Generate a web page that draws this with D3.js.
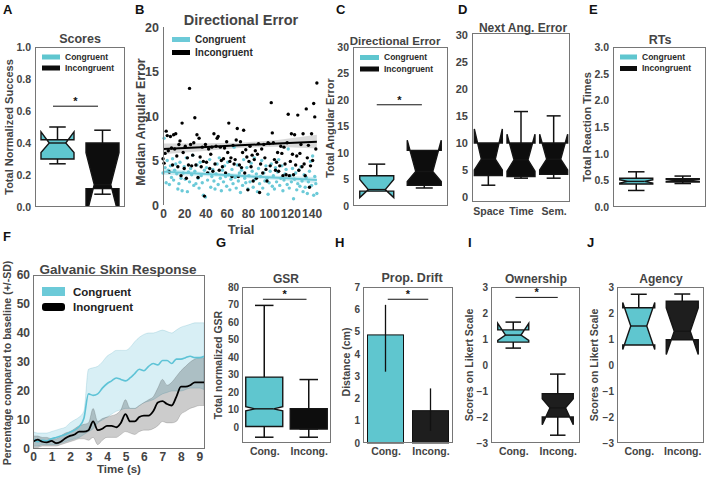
<!DOCTYPE html>
<html><head><meta charset="utf-8">
<script src="https://cdn.jsdelivr.net/npm/d3@7"></script>
<style>body{margin:0;background:#fff}</style>
</head><body><svg id="c" width="709" height="478" xmlns="http://www.w3.org/2000/svg"></svg>
<script>
// ---------------- DATA ----------------
const condLabels = ["Congruent", "Incongruent"];
const gsrLegendLabels = ["Congruent", "Inongruent"];
const shortLabels = ["Cong.", "Incong."];
const nextErrLabels = ["Space", "Time", "Sem."];
// box stats order: [whiskerLow, q1, notchLow, median, notchHigh, q3, whiskerHigh]
const scoresStats = [[0.27, 0.30, 0.34, 0.40, 0.47, 0.42, 0.50], [0.08, 0.115, -0.06, 0.14, 0.34, 0.40, 0.48]];
const dirErrStats = [[2.8, 2.8, 1.6, 3.1, 5.0, 5.7, 7.9], [3.4, 3.9, 4.6, 6.5, 12.4, 10.5, 10.5]];
const nextErrStats = [[2.2, 4.0, 5.0, 7.0, 12.6, 10.0, 10.0], [3.5, 3.8, 4.8, 6.9, 11.6, 10.0, 15.8], [3.5, 4.2, 5.0, 7.0, 11.6, 10.0, 15.0]];
const rtStats = [[0.31, 0.43, 0.45, 0.48, 0.51, 0.54, 0.66], [0.44, 0.47, 0.48, 0.50, 0.52, 0.53, 0.58]];
const gsrStats = [[-5.7, 0.4, 9.3, 10.5, 11.7, 28.6, 69.5], [-5.7, -1.0, -1.0, -1.0, -1.0, 10.5, 27.2]];
const ownStats = [[0.65, 0.88, 0.95, 1.15, 1.6, 1.35, 1.65], [-2.7, -2.0, -2.3, -1.65, -1.3, -1.1, -0.35]];
const agencyStats = [[0.77, 0.77, 0.6, 1.5, 2.4, 2.2, 2.72], [0.97, 0.97, 0.4, 1.3, 2.2, 2.45, 2.73]];
const driftMean = [4.85, 1.45];
const driftErrLow = [3.2, 0.55];
const driftErrHigh = [6.2, 2.45];
// significance bar levels
const sigScores = 0.63, sigDirErr = 19.1, sigGsr = 73, sigDrift = 6.45, sigOwn = 2.6;

// Panel B: median angular error per trial
const incongTrialErr = [5.2,4.7,5.8,8.3,7.8,6.1,3.7,7.7,6.4,4.5, 7.9,6.3,8.0,5.5,4.3,6.8,7.2,3.3,9.2,5.9,
 4.1,6.6,3.0,5.3,4.5,13.1,6.8,4.4,5.6,7.0, 9.8,4.5,7.9,3.1,7.5,5.4,4.3,6.5,4.9,1.0, 6.8,4.8,3.6,6.3,4.1,5.7,6.5,3.8,8.0,4.6,
 6.6,7.5,7.7,3.9,6.5,5.0,4.3,5.2,6.4,3.6, 7.1,5.9,9.2,4.9,5.3,3.2,6.7,4.6,5.1,7.3, 8.6,3.2,4.5,7.1,4.2,5.9,8.4,3.6,6.2,5.4,
 1.7,4.9,6.6,4.3,5.6,2.7,5.1,6.1,3.0,5.7, 6.9,1.4,4.6,6.3,3.6,6.8,5.3,4.0,2.7,7.0, 6.9,4.4,11.5,8.1,7.0,5.1,3.9,4.8,5.9,3.8,
 4.4,6.6,5.8,3.3,6.5,4.6,3.4,7.0,10.2,3.3, 4.9,8.0,5.7,3.4,7.9,4.5,5.5,10.1,3.9,5.8, 6.8,4.3,8.0,4.6,3.3,10.8,5.3,6.7,2.0,4.4,
 8.0,5.0,11.4,9.9,6.3,13.7];
const congTrialErr = [3.6,7.5,4.2,2.5,5.0,3.9,2.3,4.4,3.1,5.2, 2.8,3.9,4.6,3.5,1.8,2.4,4.8,3.0,1.6,3.6,
 4.3,2.9,5.3,1.5,3.7,2.6,4.1,3.4,5.6,2.2, 3.8,2.4,4.5,3.0,1.9,4.8,3.3,2.5,1.1,3.9, 0.9,4.2,2.8,3.6,5.1,2.0,3.2,4.0,2.7,1.8,
 3.5,4.6,2.3,5.3,3.0,1.6,3.9,2.6,4.4,3.2, 2.1,4.8,3.4,1.7,2.9,4.0,2.4,6.5,3.1,1.9, 4.5,2.7,3.6,1.4,3.9,2.2,5.1,3.0,2.5,4.2,
 1.8,3.3,2.6,4.7,3.8,2.0,5.3,2.9,3.5,1.5, 4.1,2.4,3.2,5.0,1.9,3.6,2.7,4.4,3.0,1.2, 2.5,3.8,4.6,2.1,3.3,1.8,4.2,2.6,3.7,5.1,
 2.2,3.0,4.4,1.6,2.8,3.5,4.0,2.3,6.3,1.9, 3.3,2.6,4.1,0.7,2.9,3.6,1.7,2.4,3.9,2.1, 4.3,2.7,1.5,3.4,2.0,3.1,1.3,2.6,3.8,4.9,
 2.2,5.5,1.1,3.2,2.4,1.3];
// regression fits with confidence band (x, fit, low, high)
const fitX = [0, 36, 72, 108, 145];
const incongFit = [6.3, 6.5, 6.7, 6.9, 7.1];
const incongFitLo = [5.7, 6.05, 6.4, 6.55, 6.35];
const incongFitHi = [6.9, 6.95, 7.0, 7.3, 7.9];
const congFit = [3.75, 3.5, 3.28, 3.05, 2.8];
const congFitLo = [3.4, 3.25, 3.05, 2.8, 2.45];
const congFitHi = [4.1, 3.75, 3.5, 3.3, 3.15];

// Panel F: GSR time course
const gsrTime = [0,0.25,0.5,0.75,1,1.25,1.5,1.75,2,2.25,2.5,2.75,3,3.25,3.5,3.75,4,4.25,4.5,4.75,5,5.25,5.5,5.75,6,6.25,6.5,6.75,7,7.25,7.5,7.75,8,8.25,8.5,8.75,9,9.25];
const gsrCong = [3.5,2.5,3.0,2.8,3.5,4.0,4.5,5.0,5.8,6.5, 7.8,10.5,19,18.5,19,21,22.5,23.5,24.5,24, 23.5,24.5,26,27.5,27,28.5,29.5,29,30.5,30.5, 29.5,31,31,31.5,32,31.5,31.5,32];
const gsrCongHi = [6,5.5,5.5,5.5,6,6.5,7,7.5,9,10, 11,13,27.5,28,28.5,30,32,33,34,34, 34,35,37,38.5,39.5,40,40,40.5,41,40.5, 40,41,42,42.5,43,43.5,43.5,43.5];
const gsrCongLo = [1,1,1.5,1.5,1.5,1.5,2,2.5,3,3.5, 4,5,6,7,9,10,11,12,13,13.5, 14,14,14,15,16,16.5,17,18,19,19.5, 20,20,20,20.5,21,21,21,20.5];
const gsrIncong = [2.5,3.2,2.5,2.3,2.8,2.0,2.5,3.7,4.5,5.0, 6.0,6.0,6.5,9.5,6.5,7.0,8.0,8.0,7.5,9.0, 12.0,9.5,9.5,11.0,11.5,11.5,13.0,16.0,16.5,15.5, 15.0,18.0,21.5,21.5,22.0,23.0,23.0,23.0];
const gsrIncongHi = [4.5,4.5,4,4,3.5,3.5,4.5,5.5,6,7, 8,8.5,9,14,9.5,10.5,11,11.5,12,13.5, 17,14,14,15,16,17,18,21,24,22, 23,25,27,28.5,30,31,31.5,31.5];
const gsrIncongLo = [0.5,0.5,1,1,1,1,1.5,2,2.5,3, 3.5,3.5,3,4,1.5,3,4,4,4,5, 6,5.5,5,6,6.5,6.5,7,8,9.5,9, 9,9.5,12,13,14,14.5,15,15];

// tick values
const ticksScores = [0, 0.2, 0.4, 0.6, 0.8, 1.0];
const ticksB_y = [0, 5, 10, 15, 20];
const ticksB_x = [0, 20, 40, 60, 80, 100, 120, 140];
const ticks30 = [0, 5, 10, 15, 20, 25, 30];
const ticksRT = [0, 0.5, 1.0, 1.5, 2.0, 2.5, 3.0];
const ticksF_y = [0, 10, 20, 30, 40, 50, 60];
const ticksF_x = [0, 1, 2, 3, 4, 5, 6, 7, 8, 9];
const ticksGsr = [0, 10, 20, 30, 40, 50, 60, 70, 80];
const ticksDrift = [0, 1, 2, 3, 4, 5, 6, 7];
const ticksLikert = [-3, -2, -1, 0, 1, 2, 3];

// ---------------- DRAWING ----------------
const FF = "'Liberation Sans', Arial, Helvetica, sans-serif";
const CYAN = "#5FC6CF", CYAN_PT = "#6CCAD8", BLACK = "#0d0d0d", DARK = "#1e1e1e";
const TXT = "#444";
const svg = d3.select("#c");
svg.append("rect").attr("width", 709).attr("height", 478).attr("fill", "#fff");
let clipN = 0;

function panel(x0, x1, y0, y1, xdom, ydom) {
  const g = svg.append("g");
  const x = d3.scaleLinear().domain(xdom).range([x0, x1]);
  const y = d3.scaleLinear().domain(ydom).range([y1, y0]);
  const id = "clip" + (clipN++);
  svg.append("clipPath").attr("id", id).append("rect")
    .attr("x", x0).attr("y", y0).attr("width", x1 - x0).attr("height", y1 - y0);
  const inner = g.append("g").attr("clip-path", `url(#${id})`);
  return { g, inner, x, y, x0, x1, y0, y1 };
}
function frame(p) {
  p.g.append("rect").attr("x", p.x0 + 0.5).attr("y", p.y0 + 0.5)
    .attr("width", p.x1 - p.x0 - 1).attr("height", p.y1 - p.y0 - 1)
    .attr("fill", "none").attr("stroke", "#767676").attr("stroke-width", 1);
}
function styleAxis(a, size) {
  a.select(".domain").remove();
  a.selectAll("text").attr("font-size", size).attr("font-weight", "bold")
    .attr("fill", TXT).attr("font-family", FF);
}
function yAxis(p, ticks, fmt, size, pad = 4) {
  const a = p.g.append("g").attr("transform", `translate(${p.x0},0)`)
    .call(d3.axisLeft(p.y).tickValues(ticks).tickFormat(fmt).tickSize(0).tickPadding(pad));
  styleAxis(a, size);
}
function xAxis(p, ticks, fmt, size, pad = 5) {
  const a = p.g.append("g").attr("transform", `translate(0,${p.y1})`)
    .call(d3.axisBottom(p.x).tickValues(ticks).tickFormat(fmt).tickSize(0).tickPadding(pad));
  styleAxis(a, size);
}
function text(x, y, s, size, opts = {}) {
  const t = svg.append("text").attr("x", x).attr("y", y).text(s)
    .attr("font-family", FF).attr("font-size", size)
    .attr("font-weight", opts.weight || "bold").attr("fill", opts.fill || TXT)
    .attr("text-anchor", opts.anchor || "middle");
  if (opts.rotate) t.attr("transform", `rotate(-90,${x},${y})`);
  return t;
}
function letter(x, y, s) { text(x, y, s, 13, { anchor: "start", fill: "#111" }); }
function drawBoxes(p, stats, fills, w) {
  stats.forEach((s, i) => {
    const [wl, q1, nl, md, nh, q3, wh] = s;
    const cx = p.x(i + 1), L = cx - w / 2, R = cx + w / 2, cl = cx - w / 4, cr = cx + w / 4;
    const y = p.y;
    const pts = [[L, y(q1)], [R, y(q1)], [R, y(nl)], [cr, y(md)], [R, y(nh)], [R, y(q3)],
                 [L, y(q3)], [L, y(nh)], [cl, y(md)], [L, y(nl)]];
    p.inner.append("path").attr("d", d3.line()(pts) + "Z")
      .attr("fill", fills[i]).attr("stroke", "#151515").attr("stroke-width", 1.4)
      .attr("stroke-linejoin", "miter");
    p.inner.append("line").attr("x1", cl).attr("x2", cr).attr("y1", y(md)).attr("y2", y(md))
      .attr("stroke", "#151515").attr("stroke-width", 1.4);
    const wk = [[q1, wl], [q3, wh]];
    wk.forEach(([a, b]) => {
      if (a === b) return;
      p.inner.append("line").attr("x1", cx).attr("x2", cx).attr("y1", y(a)).attr("y2", y(b))
        .attr("stroke", "#111").attr("stroke-width", 1.5);
      p.inner.append("line").attr("x1", cl).attr("x2", cr).attr("y1", y(b)).attr("y2", y(b))
        .attr("stroke", "#111").attr("stroke-width", 1.5);
    });
  });
}
function sigBar(p, xa, xb, v) {
  p.g.append("line").attr("x1", p.x(xa)).attr("x2", p.x(xb)).attr("y1", p.y(v)).attr("y2", p.y(v))
    .attr("stroke", "#111").attr("stroke-width", 1);
  text((p.x(xa) + p.x(xb)) / 2, p.y(v) - 1, "*", 11, { fill: "#111" });
}
function legend(x, y, dy, pw, ph, size, labels, colors) {
  labels.forEach((l, i) => {
    svg.append("rect").attr("x", x).attr("y", y + i * dy - ph / 2).attr("width", pw).attr("height", ph)
      .attr("fill", colors[i]);
    text(x + pw + 5, y + i * dy + size * 0.35, l, size, { anchor: "start", fill: "#2a2a2a" });
  });
}
const fmt1 = d3.format(".1f"), fmt0 = d3.format("d");

// ---- A: Scores ----
{
  const p = panel(35, 125, 47, 207, [0.5, 2.5], [0, 1]);
  drawBoxes(p, scoresStats, [CYAN, BLACK], 33);
  frame(p);
  yAxis(p, ticksScores, fmt1, 10.5);
  sigBar(p, 0.9, 1.9, sigScores);
  legend(42, 57, 11, 18, 5, 8.5, condLabels, [CYAN, BLACK]);
  text(80, 43, "Scores", 12.5);
  text(13, 127, "Total Normalized Success", 11, { rotate: true });
  letter(3, 14, "A");
}
// ---- B: Directional error scatter ----
{
  const p = panel(163, 319, 27, 205, [0, 147], [0, 20]);
  const area = (lo, hi) => d3.area().x((d, i) => p.x(fitX[i])).y0((d, i) => p.y(lo[i])).y1((d, i) => p.y(hi[i]));
  p.g.append("path").attr("d", area(incongFitLo, incongFitHi)(fitX)).attr("fill", "rgba(0,0,0,0.15)");
  p.g.append("path").attr("d", area(congFitLo, congFitHi)(fitX)).attr("fill", "rgba(108,200,216,0.3)");
  p.g.selectAll(".pc").data(congTrialErr).enter().append("circle")
    .attr("cx", (d, i) => p.x(i)).attr("cy", d => p.y(d)).attr("r", 1.7).attr("fill", CYAN_PT);
  p.g.selectAll(".pi").data(incongTrialErr).enter().append("circle")
    .attr("cx", (d, i) => p.x(i)).attr("cy", d => p.y(d)).attr("r", 1.7).attr("fill", "#000");
  const ln = (f) => d3.line().x((d, i) => p.x(fitX[i])).y((d) => p.y(d))(f);
  p.g.append("path").attr("d", ln(congFit)).attr("fill", "none").attr("stroke", "#6CCAD8").attr("stroke-width", 2);
  p.g.append("path").attr("d", ln(incongFit)).attr("fill", "none").attr("stroke", "#000").attr("stroke-width", 2);
  p.g.append("line").attr("x1", 163.5).attr("x2", 163.5).attr("y1", 27).attr("y2", 205).attr("stroke", "#767676");
  yAxis(p, ticksB_y, fmt0, 12.5, 4);
  xAxis(p, ticksB_x, fmt0, 12, 4);
  legend(172, 39.5, 13, 18, 5, 10, condLabels, ["#6CCAD8", "#000"]);
  text(241, 25, "Directional Error", 14.5);
  text(241, 234, "Trial", 13);
  text(145, 122, "Median Angular Error", 12.5, { rotate: true });
  letter(135, 14, "B");
}
// ---- C: Directional error boxes ----
{
  const p = panel(353, 448, 47, 206, [0.5, 2.5], [0, 30]);
  drawBoxes(p, dirErrStats, [CYAN, BLACK], 34);
  frame(p);
  yAxis(p, ticks30, fmt0, 10.5);
  sigBar(p, 1.0, 1.95, sigDirErr);
  legend(360, 57.5, 11.5, 19, 5, 8.5, condLabels, [CYAN, BLACK]);
  text(395, 45, "Directional Error", 11.5);
  text(334, 128, "Total Angular Error", 11, { rotate: true });
  letter(336, 14, "C");
}
// ---- D: Next angular error ----
{
  const p = panel(472, 570, 33, 202, [0.5, 3.5], [-0.9, 30.3]);
  drawBoxes(p, nextErrStats, [BLACK, BLACK, BLACK], 28);
  frame(p);
  yAxis(p, ticks30, fmt0, 11);
  xAxis(p, [1, 2, 3], (d) => nextErrLabels[d - 1], 10.5, 6);
  text(523, 32, "Next Ang. Error", 12);
  letter(458, 14, "D");
}
// ---- E: RTs ----
{
  const p = panel(613, 706, 47, 207, [0.5, 2.5], [0, 3]);
  drawBoxes(p, rtStats, [CYAN, BLACK], 33);
  frame(p);
  yAxis(p, ticksRT, fmt1, 10.5);
  legend(620, 57, 11.5, 17, 5, 8.5, condLabels, [CYAN, BLACK]);
  text(660, 44, "RTs", 12.5);
  text(591, 127, "Total Reaction Times", 11, { rotate: true });
  letter(589, 14, "E");
}
// ---- F: GSR time course ----
{
  const p = panel(33, 205, 275, 449, [0, 9.3], [0, 60]);
  const band = (lo, hi) => d3.area().x((d, i) => p.x(gsrTime[i])).y0((d, i) => p.y(lo[i])).y1((d, i) => p.y(hi[i]))
    .curve(d3.curveMonotoneX)(gsrTime);
  p.inner.append("path").attr("d", band(gsrCongLo, gsrCongHi)).attr("fill", "rgba(110,196,218,0.27)")
    .attr("stroke", "rgba(110,180,200,0.45)").attr("stroke-width", 0.6);
  p.inner.append("path").attr("d", band(gsrIncongLo, gsrIncongHi)).attr("fill", "rgba(0,0,0,0.2)")
    .attr("stroke", "rgba(0,0,0,0.25)").attr("stroke-width", 0.6);
  const ln = (v) => d3.line().x((d, i) => p.x(gsrTime[i])).y((d, i) => p.y(v[i])).curve(d3.curveMonotoneX)(gsrTime);
  p.inner.append("path").attr("d", ln(gsrCong)).attr("fill", "none").attr("stroke", "#5EC3D6").attr("stroke-width", 1.6);
  p.inner.append("path").attr("d", ln(gsrIncong)).attr("fill", "none").attr("stroke", "#000").attr("stroke-width", 1.8);
  frame(p);
  yAxis(p, ticksF_y, fmt0, 12, 3);
  xAxis(p, ticksF_x, fmt0, 12, 3);
  svg.append("rect").attr("x", 42).attr("y", 287).attr("width", 23).attr("height", 9).attr("fill", "#6CCAD8");
  svg.append("rect").attr("x", 42).attr("y", 303).attr("width", 23).attr("height", 8).attr("rx", 3).attr("fill", "#000");
  text(73, 296, gsrLegendLabels[0], 11.5, { anchor: "start", fill: "#222" });
  text(73, 311, gsrLegendLabels[1], 11.5, { anchor: "start", fill: "#222" });
  text(118, 274, "Galvanic Skin Response", 13.5);
  text(119, 473, "Time (s)", 11.5);
  text(11, 363, "Percentage compared to baseline (+/-SD)", 10.5, { rotate: true });
  letter(3, 241, "F");
}
// ---- G: GSR boxes ----
{
  const p = panel(242, 331, 287, 443, [0.5, 2.5], [-9, 80]);
  drawBoxes(p, gsrStats, [CYAN, BLACK], 37);
  frame(p);
  yAxis(p, ticksGsr, fmt0, 10, 3);
  xAxis(p, [1, 2], (d) => shortLabels[d - 1], 10.5, 5);
  sigBar(p, 0.97, 1.95, sigGsr);
  text(286, 283, "GSR", 12);
  text(222, 365, "Total normalized GSR", 10.5, { rotate: true });
  letter(216, 247, "G");
}
// ---- H: Proprioceptive drift ----
{
  const p = panel(363, 453, 287, 443, [-0.5, 1.5], [0, 7]);
  const bw = p.x(0.4) - p.x(0);
  driftMean.forEach((v, i) => {
    p.g.append("rect").attr("x", p.x(i) - bw).attr("width", 2 * bw).attr("y", p.y(v)).attr("height", p.y(0) - p.y(v))
      .attr("fill", i === 0 ? CYAN : DARK).attr("stroke", "#111").attr("stroke-width", 1);
    p.g.append("line").attr("x1", p.x(i)).attr("x2", p.x(i)).attr("y1", p.y(driftErrLow[i])).attr("y2", p.y(driftErrHigh[i]))
      .attr("stroke", "#111").attr("stroke-width", 1.3);
  });
  frame(p);
  yAxis(p, ticksDrift, fmt0, 10, 3);
  xAxis(p, [0, 1], (d) => shortLabels[d], 10.5, 5);
  sigBar(p, 0.05, 0.95, sigDrift);
  text(412, 282, "Prop. Drift", 12.5);
  text(350, 362, "Distance (cm)", 10.5, { rotate: true });
  letter(335, 247, "H");
}
// ---- I: Ownership ----
{
  const p = panel(491, 580, 287, 443, [0.5, 2.5], [-3, 3]);
  drawBoxes(p, ownStats, [CYAN, DARK], 31);
  frame(p);
  yAxis(p, ticksLikert, fmt0, 10, 3);
  xAxis(p, [1, 2], (d) => shortLabels[d - 1], 10.5, 5);
  sigBar(p, 1.05, 2.0, sigOwn);
  text(536, 283, "Ownership", 12);
  text(473, 365, "Scores on Likert Scale", 10.5, { rotate: true });
  letter(468, 247, "I");
}
// ---- J: Agency ----
{
  const p = panel(617, 704, 287, 443, [0.5, 2.5], [-3, 3]);
  drawBoxes(p, agencyStats, [CYAN, DARK], 32);
  frame(p);
  yAxis(p, ticksLikert, fmt0, 10, 3);
  xAxis(p, [1, 2], (d) => shortLabels[d - 1], 10.5, 5);
  text(661, 283, "Agency", 12);
  text(598, 365, "Scores on Likert Scale", 10.5, { rotate: true });
  letter(587, 247, "J");
}
</script></body></html>
